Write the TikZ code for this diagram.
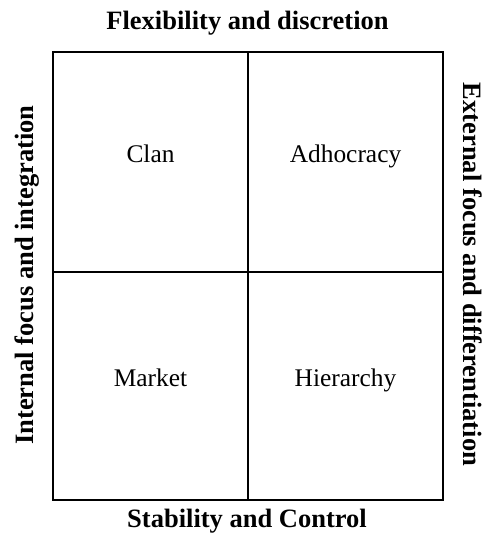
\documentclass[tikz,border=0pt]{standalone}
\usepackage{fontspec}
\setmainfont{Liberation Serif}
\begin{document}
\begin{tikzpicture}[x=1bp,y=-1bp,
  axislabel/.style={font=\fontsize{26.6}{30}\selectfont\bfseries, inner sep=0pt, anchor=base},
  cell/.style={font=\fontsize{25.5}{30}\selectfont, inner sep=0pt, anchor=base},
  frame/.style={line width=2bp},
  divider/.style={line width=1.6bp}]
  \useasboundingbox (0,0) rectangle (487,536);
  % quadrant grid
  \coordinate (tl) at (53,52);
  \coordinate (br) at (443,500);
  \coordinate (mt) at (248,52);
  \coordinate (mb) at (248,500);
  \coordinate (ml) at (53,272);
  \coordinate (mr) at (443,272);
  \draw[frame] (tl) rectangle (br);
  \draw[divider] (mt) -- (mb);
  \draw[divider] (ml) -- (mr);
  % quadrant names
  \node[cell] (clan) at (150.5,162.7) {Clan};
  \node[cell] (adhoc) at (345.5,162.7) {Adhocracy};
  \node[cell] (market) at (150.5,386.7) {Market};
  \node[cell] (hier) at (345.5,386.7) {Hierarchy};
  % axis labels
  \node[axislabel] (top) at (247.5,30) {Flexibility and discretion};
  \node[axislabel] (bottom) at (247,527) {Stability and Control};
  \node[axislabel, rotate=90] (left) at (33,275) {Internal focus and integration};
  \node[axislabel, rotate=-90] (right) at (463,274.5) {External focus and differentiation};
\end{tikzpicture}
\end{document}
